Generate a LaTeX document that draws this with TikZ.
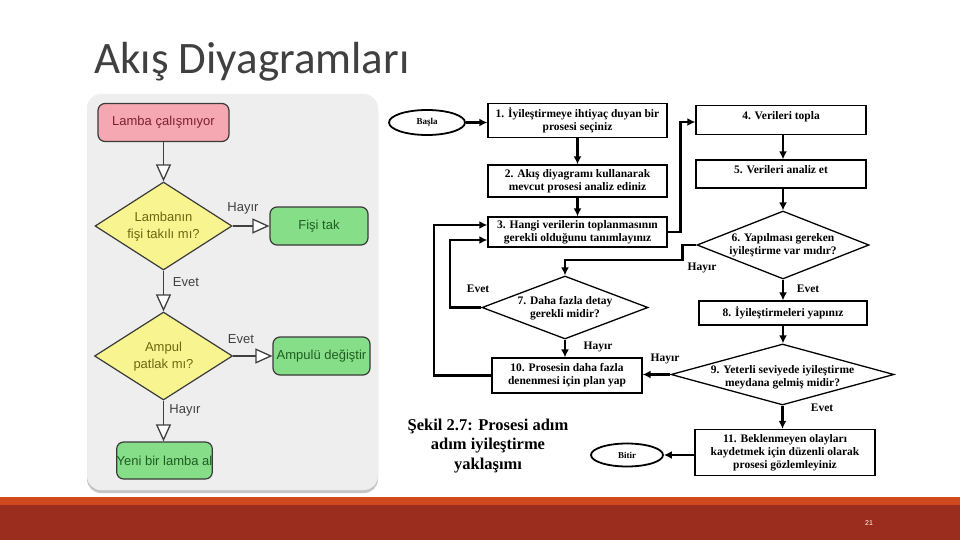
\documentclass[tikz,border=0pt]{standalone}
\usepackage{fontspec}
\setmainfont{Liberation Serif}
\newfontfamily\titlef{Carlito}
\newfontfamily\sansf{Liberation Sans}
\usetikzlibrary{shapes.geometric,arrows.meta,shadows}
\definecolor{panel}{HTML}{EEEEEE}
\definecolor{pinkf}{HTML}{F5A7B2}
\definecolor{pinkt}{HTML}{7A2230}
\definecolor{yelf}{HTML}{F8F590}
\definecolor{yelt}{HTML}{6B6712}
\definecolor{greenf}{HTML}{86DE88}
\definecolor{greent}{HTML}{1F5C22}
\definecolor{lborder}{HTML}{3A3A3A}
\definecolor{lline}{HTML}{404040}
\definecolor{titleg}{HTML}{404040}
\definecolor{bando}{HTML}{D04A1E}
\definecolor{bandr}{HTML}{9B2D1F}
\newcommand\myLfont{\sansf\fontsize{13}{17}\selectfont}
\newcommand\myRfont{\bfseries\fontsize{11.5}{13}\selectfont}
\newcommand\mySmallR{\bfseries\fontsize{9}{10}\selectfont}
\newcommand\myCapfont{\bfseries\fontsize{16.5}{19.5}\selectfont}
\begin{document}
\begin{tikzpicture}[x=1pt,y=-1pt,
 lbox/.style={draw=lborder, line width=1.2pt, rounded corners=7pt, inner sep=0pt, font=\myLfont, minimum height=38},
 ldia/.style={diamond, draw=lborder, line width=1.2pt, fill=yelf, inner sep=0pt},
 ltext/.style={font=\myLfont, align=center, text=yelt, inner sep=0pt},
 larr/.style={draw=lline, line width=1.3pt, -{Triangle[length=17pt,width=15pt,fill=white]}},
 llab/.style={font=\myLfont, text=lline, inner sep=0pt},
 rbox/.style={draw, line width=1.3pt, inner sep=0pt, align=center, font=\myRfont},
 rdia/.style={diamond, draw, line width=1.3pt, inner sep=0pt},
 rtext/.style={align=center, font=\myRfont, inner sep=0pt},
 rell/.style={ellipse, draw, line width=1.8pt, inner sep=0pt, font=\mySmallR},
 rarr/.style={line width=2.4pt, -{Latex[length=8pt,width=8pt]}},
 rlab/.style={font=\myRfont, inner sep=0pt},
]
\useasboundingbox (0,0) rectangle (960,540);
\fill[white] (0,0) rectangle (960,540);

% title
\node[anchor=base west, inner sep=0pt, font=\titlef\fontsize{45}{50}\selectfont, text=titleg] (title) at (94,74) {Akış Diyagramları};

% left panel
\fill[panel, rounded corners=14pt, drop shadow={shadow xshift=0pt, shadow yshift=-3pt, opacity=0.45}] (87,94) rectangle (378,490);

\node[lbox, fill=pinkf, text=pinkt, minimum width=131] (lstart) at (163.5,122.5) {Lamba çalışmıyor};
\node[ldia, minimum width=137, minimum height=88] (ld1) at (163.5,226) {};
\node[ltext] (ld1t) at (163.5,227) {Lambanın\\fişi takılı mı?};
\node[lbox, fill=greenf, text=greent, minimum width=98] (lfis) at (319,226) {Fişi tak};
\node[ldia, minimum width=138, minimum height=88] (ld2) at (163.5,356) {};
\node[ltext] (ld2t) at (163.5,357) {Ampul\\patlak mı?};
\node[lbox, fill=greenf, text=greent, minimum width=97] (lamp) at (321.5,356) {Ampulü değiştir};
\node[lbox, fill=greenf, text=greent, minimum width=95, minimum height=37] (lyeni) at (164.5,460.5) {Yeni bir lamba al};

\draw[larr] (lstart) -- (ld1);
\draw[larr] (ld1) -- (lfis);
\draw[larr] (ld1) -- (ld2);
\draw[larr] (ld2) -- (lamp);
\draw[larr] (ld2.south) -- (lyeni.north -| ld2.south);

\node[llab] (lh1) at (243,208) {Hayır};
\node[llab] (le1) at (186,282) {Evet};
\node[llab] (le2) at (241,339) {Evet};
\node[llab] (lh2) at (185,410) {Hayır};

% right flowchart
\node[rell, minimum width=76, minimum height=25] (basla) at (427,122.5) {Başla};
\node[rbox, minimum width=179, minimum height=34] (b1) at (577.5,120.5) {1. İyileştirmeye ihtiyaç duyan bir\\prosesi seçiniz};
\node[rbox, minimum width=179, minimum height=32] (b2) at (577.5,181) {2. Akış diyagramı kullanarak\\mevcut prosesi analiz ediniz};
\node[rbox, minimum width=179, minimum height=30] (b3) at (577.5,232) {3. Hangi verilerin toplanmasının\\gerekli olduğunu tanımlayınız};
\node[rbox, minimum width=170, minimum height=29, text depth=9pt] (b4) at (781,120) {4. Verileri topla};
\node[rbox, minimum width=170, minimum height=28, text depth=9pt] (b5) at (781,174) {5. Verileri analiz et};
\node[rdia, minimum width=172, minimum height=68] (d6) at (783,245) {};
\node[rtext] (d6t) at (783,245) {6. Yapılması gereken\\iyileştirme var mıdır?};
\node[rbox, minimum width=168, minimum height=24] (b8) at (783,313) {8. İyileştirmeleri yapınız};
\node[rdia, minimum width=223, minimum height=61] (d9) at (782.5,374.5) {};
\node[rtext] (d9t) at (782.5,377) {9. Yeterli seviyede iyileştirme\\meydana gelmiş midir?};
\node[rbox, minimum width=180, minimum height=46] (b11) at (785,452.5) {11. Beklenmeyen olayları\\kaydetmek için düzenli olarak\\prosesi gözlemleyiniz};
\node[rell, minimum width=72, minimum height=23] (bitir) at (627,455) {Bitir};
\node[rdia, minimum width=166, minimum height=63] (d7) at (565,307.5) {};
\node[rtext] (d7t) at (565,308) {7. Daha fazla detay\\gerekli midir?};
\node[rbox, minimum width=150, minimum height=35] (b10) at (567,375.5) {10. Prosesin daha fazla\\denenmesi için plan yap};
\node[font=\myCapfont, align=center, inner sep=0pt] (cap) at (488,446) {Şekil 2.7: Prosesi adım\\adım iyileştirme\\yaklaşımı};

\draw[rarr] (basla.east) -- (basla.east -| b1.west);
\draw[rarr] (b1) -- (b2);
\draw[rarr] (b2) -- (b3);
\draw[rarr] (b3.east) -- ++(13,0) |- (b4.west |- 0,122);
\draw[rarr] (b4.south -| d6.north) -- (b5.north -| d6.north);
\draw[rarr] (b5.south -| d6.north) -- (d6.north);
\draw[rarr] (d6.south) -- (b8.north -| d6.south);
\draw[rarr] (b8.south) -- (d9.north -| b8.south);
\draw[rarr] (d9.west) -- (b10.east |- d9.west);
\draw[rarr] (d9.south) -- (b11.north -| d9.south);
\draw[rarr] (b11.west |- bitir.east) -- (bitir.east);
\draw[rarr] (d6.west) -- ++(-14,0) |- (d7.north |- 0,260) -- (d7.north);
\draw[rarr] (d7.west) -- (450,307.5) |- (b3.west |- 0,240);
\draw[rarr] (d7.south) -- (b10.north -| d7.south);
\draw[rarr] (b10.west) -- (434,375.5) |- (b3.west |- 0,225);

\node[rlab] (l6h) at (702,268) {Hayır};
\node[rlab] (l6e) at (808,289) {Evet};
\node[rlab] (l7e) at (478,289) {Evet};
\node[rlab] (l7h) at (598,347) {Hayır};
\node[rlab] (l9h) at (665,359) {Hayır};
\node[rlab] (l9e) at (822,408) {Evet};

% bottom band
\fill[bando] (0,497) rectangle (960,505);
\fill[bandr] (0,505) rectangle (960,540);
\node[text=white, font=\sansf\fontsize{7}{8}\selectfont, inner sep=0pt] (pn) at (869,523) {21};
\end{tikzpicture}
\end{document}
